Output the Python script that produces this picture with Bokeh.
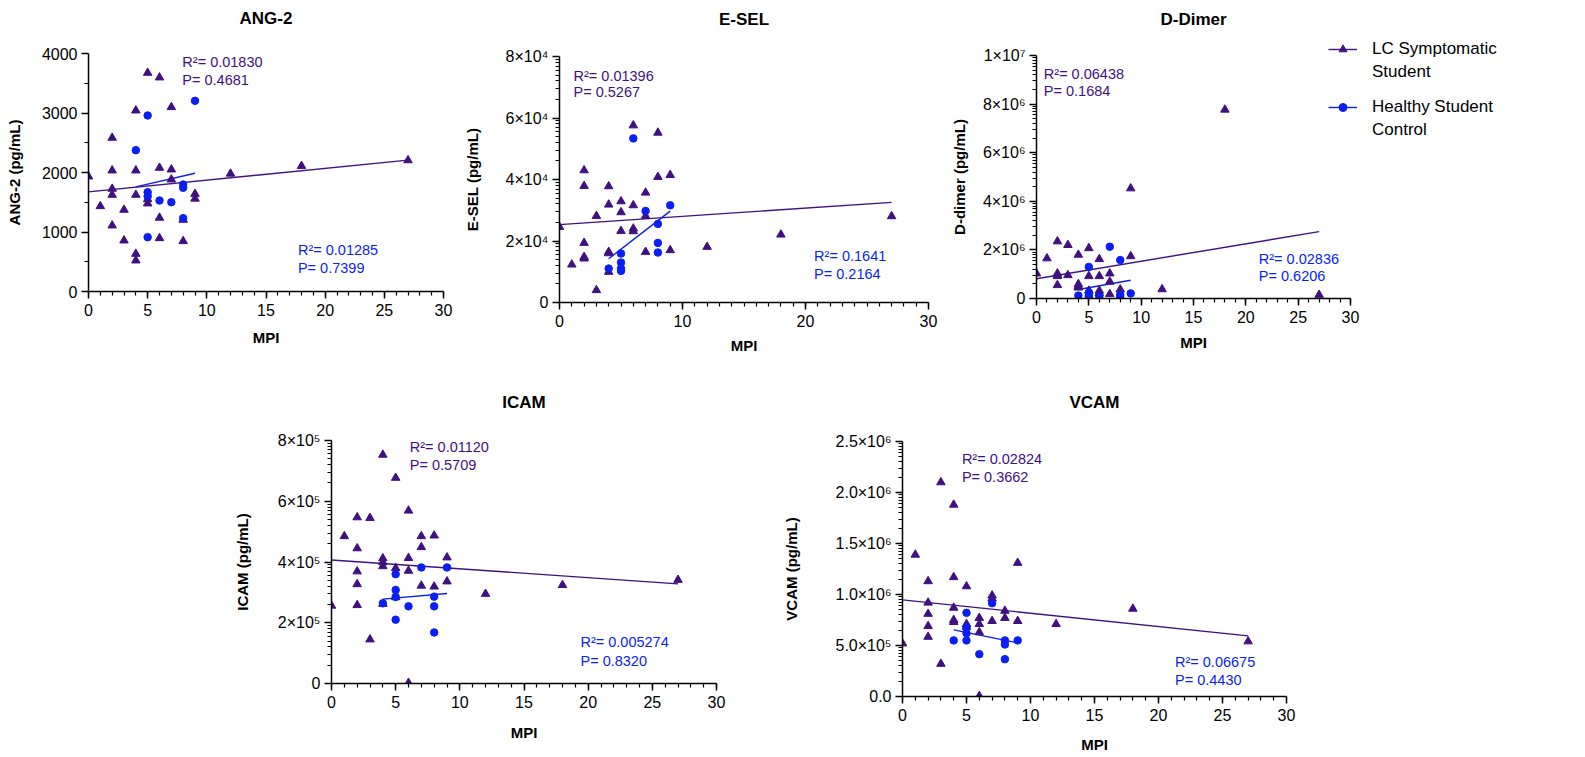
import numpy as np
from bokeh.plotting import figure
from bokeh.models import Range1d, FixedTicker, Label, Legend, LegendItem, Spacer, Title
from bokeh.layouts import row, column
from bokeh.embed import file_html
from bokeh.resources import INLINE

# ---------------- data ----------------
mpi_lc = [0, 1, 2, 2, 2, 2, 2, 3, 3, 4, 4, 4, 4, 4, 5, 5, 5, 6, 6, 6, 6, 7, 7, 7, 8, 8, 9, 9, 12, 18, 27]
mpi_hc = [4, 5, 5, 5, 5, 6, 7, 8, 8, 8, 9]

ang2_lc = [1933, 1434, 2583, 2034, 1726, 1625, 1109, 1373, 857, 3042, 2034, 1625, 633, 521,
           3675, 1550, 1480, 3597, 2079, 1239, 896, 3098, 2050, 1882, 1205, 846, 1640, 1560,
           1980, 2109, 2205]
ang2_hc = [2375, 2958, 1669, 1602, 913, 1529, 1501, 1798, 1743, 1232, 3205]

esel_lc = [24570, 12340, 42980, 37890, 19380, 14290, 14800, 28150, 4005, 37780, 31830, 16450,
           9960, 16000, 32910, 29340, 23270, 57590, 31610, 24030, 23170, 35720, 28150, 16450,
           55210, 40810, 41460, 17000, 18080, 22080, 28040]
esel_hc = [11040, 15910, 12990, 11040, 10280, 53370, 29770, 25550, 19380, 16240, 31610]

ddimer_lc = [1.03e6, 1.65e6, 2.35e6, 1.03e6, 0.92e6, 0.55e6, 0.95e6, 2.20e6, 0.96e6, 1.80e6,
             0.59e6, 0.48e6, 0.45e6, 0.50e6, 2.07e6, 0.92e6, 0.32e6, 1.62e6, 0.92e6, 0.32e6,
             0.22e6, 1.03e6, 0.69e6, 0.18e6, 0.37e6, 0.08e6, 4.53e6, 1.74e6, 0.38e6, 7.77e6,
             0.15e6]
ddimer_hc = [0.12e6, 1.30e6, 0.25e6, 0.12e6, 0.06e6, 0.08e6, 2.13e6, 1.58e6, 0.15e6, 0.05e6,
             0.21e6]

icam_lc = [2.56e5, 4.85e5, 5.47e5, 4.45e5, 3.69e5, 3.27e5, 2.58e5, 5.45e5, 1.45e5, 7.53e5,
           4.12e5, 3.99e5, 3.86e5, 2.62e5, 6.77e5, 3.80e5, 2.84e5, 5.69e5, 4.13e5, 3.71e5,
           0.02e5, 4.85e5, 4.49e5, 3.22e5, 4.87e5, 3.19e5, 4.15e5, 3.36e5, 2.95e5, 3.24e5,
           3.41e5]
icam_hc = [2.64e5, 3.60e5, 3.08e5, 2.85e5, 2.10e5, 2.54e5, 3.82e5, 2.86e5, 2.54e5, 1.68e5,
           3.82e5]

vcam_lc = [0.52e6, 1.39e6, 1.13e6, 0.92e6, 0.81e6, 0.69e6, 0.585e6, 2.10e6, 0.32e6, 1.88e6,
           1.17e6, 0.87e6, 0.75e6, 0.73e6, 1.08e6, 0.71e6, 0.68e6, 0.77e6, 0.71e6, 0.63e6,
           0.005e6, 0.99e6, 0.96e6, 0.74e6, 0.84e6, 0.77e6, 1.31e6, 0.74e6, 0.71e6, 0.86e6,
           0.54e6]
vcam_hc = [0.55e6, 0.82e6, 0.68e6, 0.62e6, 0.55e6, 0.415e6, 0.915e6, 0.55e6, 0.51e6, 0.366e6,
           0.55e6]

stats_lc = {"ANG-2": ("0.01830", "0.4681"), "E-SEL": ("0.01396", "0.5267"),
            "D-Dimer": ("0.06438", "0.1684"), "ICAM": ("0.01120", "0.5709"),
            "VCAM": ("0.02824", "0.3662")}
stats_hc = {"ANG-2": ("0.01285", "0.7399"), "E-SEL": ("0.1641", "0.2164"),
            "D-Dimer": ("0.02836", "0.6206"), "ICAM": ("0.005274", "0.8320"),
            "VCAM": ("0.06675", "0.4430")}

ytick_labels = {
    "ANG-2": ["0", "1000", "2000", "3000", "4000"],
    "E-SEL": ["0", "2×10⁴", "4×10⁴", "6×10⁴", "8×10⁴"],
    "D-Dimer": ["0", "2×10⁶", "4×10⁶", "6×10⁶", "8×10⁶", "1×10⁷"],
    "ICAM": ["0", "2×10⁵", "4×10⁵", "6×10⁵", "8×10⁵"],
    "VCAM": ["0.0", "5.0×10⁵", "1.0×10⁶", "1.5×10⁶", "2.0×10⁶", "2.5×10⁶"],
}

legend_lines_lc = ["LC Symptomatic", "Student"]
legend_lines_hc = ["Healthy Student", "Control"]

PURPLE = "#3f1180"
BLUE = "#0a1ef5"
FONT = "Liberation Sans"


def make_panel(title, ylabel, y_lc, y_hc, ymax, ystep, minor_mode, xstep,
               fw, fh, bl, br, bt, bb, title_gap, xlab_standoff, ylab_standoff,
               ann_lc, ann_hc):
    p = figure(frame_width=fw, frame_height=fh, x_range=Range1d(0, 30),
               y_range=Range1d(0, ymax), output_backend="svg", toolbar_location=None,
               min_border_left=bl, min_border_right=br, min_border_top=bt,
               min_border_bottom=bb, frame_align=False)
    p.grid.visible = False
    p.outline_line_color = None
    p.background_fill_color = "white"
    p.border_fill_color = "white"

    # empty spacer title (nearest the frame) then the real title above it
    p.add_layout(Title(text=" ", text_font_size="1px", standoff=max(title_gap - 9.7 - 3.2, 0)),
                 "above")
    p.add_layout(Title(text=title, align="center", vertical_align="bottom", standoff=0,
                       text_font=FONT, text_font_size="17px", text_font_style="bold",
                       text_color="black"), "above")

    # ticks
    majors = list(np.arange(0, ymax + ystep / 2, ystep))
    if minor_mode == "mid":
        minors = [m + ystep / 2 for m in majors[:-1]]
    else:
        minors = [m + ystep * np.log10(k) for m in majors[:-1] for k in range(2, 10)]
    p.yaxis.ticker = FixedTicker(ticks=majors, minor_ticks=minors)
    labs = ytick_labels[title]
    p.yaxis.major_label_overrides = {float(t): s for t, s in zip(majors, labs)}
    p.xaxis.ticker = FixedTicker(ticks=list(range(0, 31, xstep)), minor_ticks=list(range(0, 31)))

    for ax in (p.xaxis[0], p.yaxis[0]):
        ax.axis_line_color = "black"
        ax.axis_line_width = 1.5
        ax.major_tick_line_color = "black"
        ax.major_tick_line_width = 1.5
        ax.minor_tick_line_color = "black"
        ax.minor_tick_line_width = 1.2
        ax.major_tick_in = 0
        ax.major_tick_out = 7
        ax.minor_tick_in = 0
        ax.minor_tick_out = 4
        ax.major_label_text_font = FONT
        ax.major_label_text_font_size = "16px"
        ax.major_label_text_color = "black"
        ax.axis_label_text_font = FONT
        ax.axis_label_text_font_size = "15px"
        ax.axis_label_text_font_style = "bold"
        ax.axis_label_text_color = "black"
    p.xaxis.axis_label = "MPI"
    p.yaxis.axis_label = ylabel
    p.xaxis.major_label_standoff = 5
    p.xaxis.axis_label_standoff = xlab_standoff
    p.yaxis.major_label_standoff = 4
    p.yaxis.axis_label_standoff = ylab_standoff

    # regression lines
    def fit(x, y):
        x = np.asarray(x, float)
        y = np.asarray(y, float)
        b, a = np.polyfit(x, y, 1)
        xs = np.array([x.min(), x.max()])
        return xs, a + b * xs

    xs, ys = fit(mpi_lc, y_lc)
    p.line(xs, ys, line_color=PURPLE, line_width=1.4)
    xs, ys = fit(mpi_hc, y_hc)
    p.line(xs, ys, line_color=BLUE, line_width=1.4)
    p.scatter(mpi_lc, y_lc, marker="triangle", size=8.5, fill_color=PURPLE, line_color=PURPLE)
    p.scatter(mpi_hc, y_hc, marker="circle", size=7.5, fill_color=BLUE, line_color=BLUE)

    r2, pv = stats_lc[title]
    for txt, yy in ((f"R²= {r2}", ann_lc[1]), (f"P= {pv}", ann_lc[2])):
        p.add_layout(Label(x=ann_lc[0], y=yy, text=txt, text_font=FONT,
                           text_font_size="14.5px", text_color=PURPLE,
                           text_baseline="middle", text_align="left"))
    r2, pv = stats_hc[title]
    for txt, yy in ((f"R²= {r2}", ann_hc[1]), (f"P= {pv}", ann_hc[2])):
        p.add_layout(Label(x=ann_hc[0], y=yy, text=txt, text_font=FONT,
                           text_font_size="14.5px", text_color=BLUE,
                           text_baseline="middle", text_align="left"))
    return p


#                                                                  fw   fh   bl  br  bt  bb  gap  xso yso
p1 = make_panel("ANG-2", "ANG-2 (pg/mL)", ang2_lc, ang2_hc, 4000, 1000, "mid", 5,
                355, 238, 88, 12, 51, 66, 35.5, 10, 16,
                (7.93, 3850, 3551), (17.7, 690, 393))
p2 = make_panel("E-SEL", "E-SEL (pg/mL)", esel_lc, esel_hc, 80000, 20000, "log", 10,
                369, 246, 104, 18, 54, 66, 37.5, 7, 22,
                (1.14, 73820, 68410), (20.7, 15160, 9420))
p3 = make_panel("D-Dimer", "D-dimer (pg/mL)", ddimer_lc, ddimer_hc, 1e7, 2e6, "log", 5,
                314, 243, 90, 20, 53, 66, 37, 8, 12,
                (0.70, 9.24e6, 8.52e6), (21.24, 1.62e6, 0.91e6))
p4 = make_panel("ICAM", "ICAM (pg/mL)", icam_lc, icam_hc, 8e5, 2e5, "log", 5,
                385, 243, 104, 62, 72, 61, 39, 13, 24,
                (6.1, 7.80e5, 7.20e5), (19.4, 1.35e5, 0.75e5))
p5 = make_panel("VCAM", "VCAM (pg/mL)", vcam_lc, vcam_hc, 2.5e6, 5e5, "log", 5,
                384, 255, 124, 30, 73, 61, 40, 12, 32,
                (4.64, 2.333e6, 2.154e6), (21.29, 0.343e6, 0.163e6))

# legend panel (overlaps the right margin of the D-Dimer plot); its proxy renderers
# reuse the D-Dimer data but lie outside this panel's ranges, so only the legend shows
lf = figure(width=240, height=160, x_range=Range1d(-2, -1), y_range=Range1d(-2, -1),
            x_axis_type=None, y_axis_type=None, output_backend="svg", toolbar_location=None,
            min_border=0, frame_align=False, margin=(0, 0, 0, -42))
lf.grid.visible = False
lf.outline_line_color = None
lf.background_fill_alpha = 0
lf.border_fill_alpha = 0
lg_lc = [lf.line(mpi_lc, ddimer_lc, line_color=PURPLE, line_width=1.4),
         lf.scatter(mpi_lc, ddimer_lc, marker="triangle", size=8.5, fill_color=PURPLE,
                    line_color=PURPLE)]
lg_hc = [lf.line(mpi_hc, ddimer_hc, line_color=BLUE, line_width=1.4),
         lf.scatter(mpi_hc, ddimer_hc, marker="circle", size=7.5, fill_color=BLUE,
                    line_color=BLUE)]
lg_blank = [lf.scatter(mpi_hc, ddimer_hc, marker="circle", size=1, alpha=0)]


def make_legend(lines, rends, ybottom):
    return Legend(items=[LegendItem(label=lines[0], renderers=rends),
                         LegendItem(label=lines[1], renderers=lg_blank)],
                  location=(0, ybottom), padding=0, margin=0, spacing=3,
                  border_line_color=None, background_fill_alpha=0,
                  glyph_width=29, glyph_height=20, label_standoff=15,
                  label_text_font=FONT, label_text_font_size="17px",
                  label_text_color="black")


lf.add_layout(make_legend(legend_lines_lc, lg_lc, 80))
lf.add_layout(make_legend(legend_lines_hc, lg_hc, 22))

layout = column(Spacer(width=10, height=2),
                row(p1, p2, p3, lf),
                row(Spacer(width=227, height=10), p4, p5))

open("out.html", "w").write(file_html(layout, INLINE))
